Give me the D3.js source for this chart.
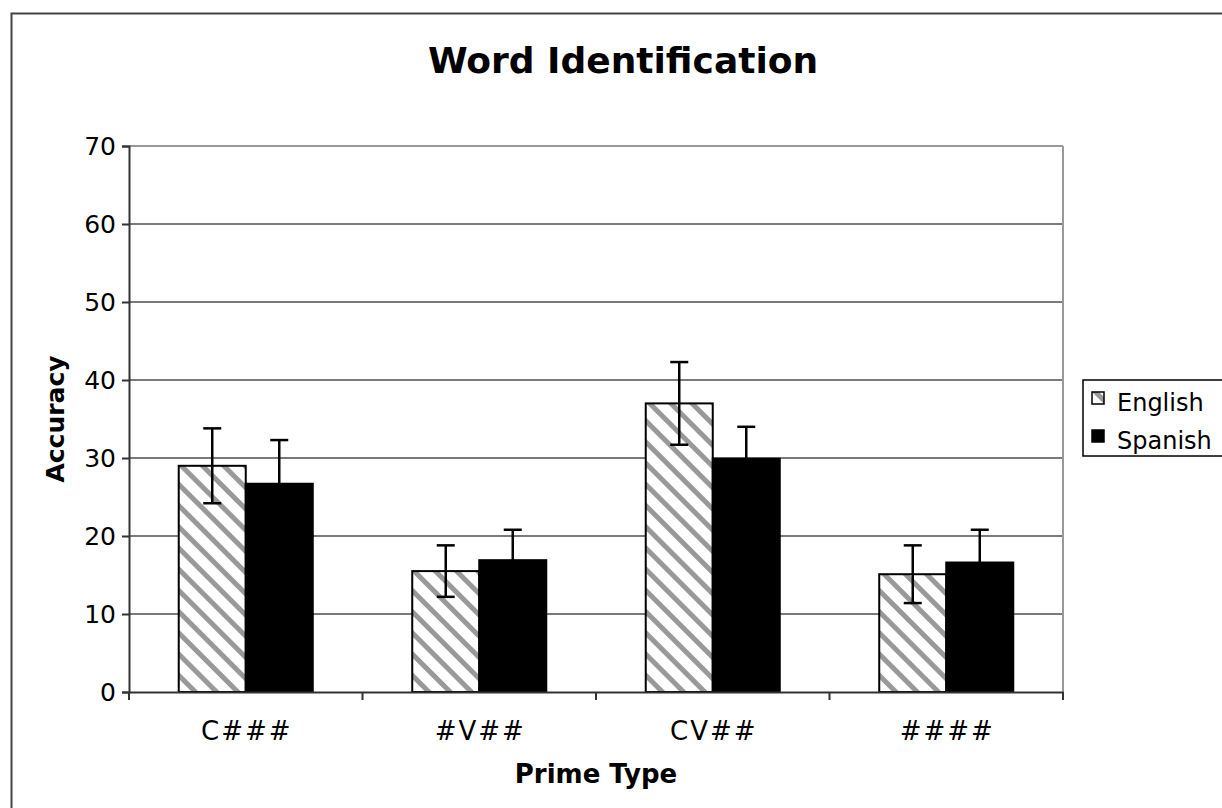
<!DOCTYPE html>
<html><head><meta charset="utf-8">
<script src="https://cdn.jsdelivr.net/npm/d3@7"></script>
<style>html,body{margin:0;padding:0;background:#fff;}svg{display:block;font-family:"DejaVu Sans",Verdana,sans-serif;}</style>
</head><body>
<svg id="c" width="1222" height="808"></svg>
<script>
const categories = ["C###", "#V##", "CV##", "####"];
const seriesNames = ["English", "Spanish"];
const englishValues = [29.0, 15.5, 37.0, 15.1];
const spanishValues = [26.7, 16.9, 29.9, 16.6];
const englishErrors = [4.8, 3.3, 5.3, 3.7];
const spanishErrors = [5.6, 3.9, 4.1, 4.2];
const yTicks = [0, 10, 20, 30, 40, 50, 60, 70];

const svg = d3.select("#c");
const W = 1222, H = 808;
const plot = {left: 129, right: 1063, top: 146, bottom: 692};

svg.append("rect").attr("width", W).attr("height", H).attr("fill", "#fff");
// outer chart frame
svg.append("rect").attr("x", 11.5).attr("y", 13.5).attr("width", W + 20).attr("height", H + 20)
  .attr("fill", "none").attr("stroke", "#444").attr("stroke-width", 2);

const defs = svg.append("defs");
const pat = defs.append("pattern").attr("id", "hatch").attr("patternUnits", "userSpaceOnUse")
  .attr("width", 15).attr("height", 15).attr("patternTransform", "rotate(-45)");
pat.append("rect").attr("width", 15).attr("height", 15).attr("fill", "#fff");
pat.append("rect").attr("width", 5).attr("height", 15).attr("fill", "#999");

const y = d3.scaleLinear().domain([0, 70]).range([plot.bottom, plot.top]);
const x = d3.scaleBand().domain(categories).range([plot.left, plot.right])
  .paddingInner(0.426).paddingOuter(0.213);
const xs = d3.scaleBand().domain(seriesNames).range([0, x.bandwidth()]);

// gridlines
svg.append("g").selectAll("line").data(yTicks.filter(d => d > 0)).join("line")
  .attr("x1", plot.left).attr("x2", plot.right)
  .attr("y1", d => y(d)).attr("y2", d => y(d))
  .attr("stroke", d => d === 70 ? "#999" : "#7a7a7a").attr("stroke-width", 2);
// right border of plot area
svg.append("line").attr("x1", plot.right).attr("x2", plot.right)
  .attr("y1", plot.top).attr("y2", plot.bottom).attr("stroke", "#999").attr("stroke-width", 2);

// bars
const data = categories.map((c, i) => ({
  cat: c,
  vals: [
    {s: "English", v: englishValues[i], e: englishErrors[i]},
    {s: "Spanish", v: spanishValues[i], e: spanishErrors[i]}
  ]
}));
const groups = svg.append("g").selectAll("g").data(data).join("g")
  .attr("transform", d => `translate(${x(d.cat)},0)`);
groups.selectAll("rect").data(d => d.vals).join("rect")
  .attr("x", d => xs(d.s)).attr("width", xs.bandwidth())
  .attr("y", d => y(d.v)).attr("height", d => y(0) - y(d.v))
  .attr("fill", d => d.s === "English" ? "url(#hatch)" : "#000")
  .attr("stroke", "#000").attr("stroke-width", 2);

// error bars
const eb = groups.selectAll("g.err").data(d => d.vals).join("g").attr("class", "err")
  .attr("stroke", "#000").attr("stroke-width", 2.5);
eb.append("line")
  .attr("x1", d => xs(d.s) + xs.bandwidth() / 2).attr("x2", d => xs(d.s) + xs.bandwidth() / 2)
  .attr("y1", d => y(d.v - d.e)).attr("y2", d => y(d.v + d.e));
eb.append("line")
  .attr("x1", d => xs(d.s) + xs.bandwidth() / 2 - 9).attr("x2", d => xs(d.s) + xs.bandwidth() / 2 + 9)
  .attr("y1", d => y(d.v + d.e)).attr("y2", d => y(d.v + d.e));
eb.append("line")
  .attr("x1", d => xs(d.s) + xs.bandwidth() / 2 - 9).attr("x2", d => xs(d.s) + xs.bandwidth() / 2 + 9)
  .attr("y1", d => y(d.v - d.e)).attr("y2", d => y(d.v - d.e));

// y axis
const yAxis = svg.append("g").attr("transform", `translate(${plot.left},0)`)
  .call(d3.axisLeft(y).tickValues(yTicks).tickSize(7).tickPadding(6));
yAxis.select(".domain").attr("stroke", "#333").attr("stroke-width", 2);
yAxis.selectAll(".tick line").attr("stroke", "#333").attr("stroke-width", 2);
yAxis.selectAll("text").attr("font-size", 25).attr("fill", "#000")
  .attr("font-family", "DejaVu Sans");

// x axis
const xAxis = svg.append("g").attr("transform", `translate(0,${plot.bottom})`)
  .call(d3.axisBottom(x).tickSize(0).tickPadding(30));
xAxis.select(".domain").attr("stroke", "#333").attr("stroke-width", 2);
xAxis.selectAll("text").attr("font-size", 26).attr("fill", "#000")
  .attr("letter-spacing", 2).attr("dx", 1)
  .attr("font-family", "DejaVu Sans");
const bounds = [plot.left].concat(categories.map(c => x(c) + x.bandwidth() / 2 + x.step() / 2));
xAxis.selectAll("line.bt").data(bounds).join("line").attr("class", "bt")
  .attr("x1", d => d).attr("x2", d => d).attr("y1", 0).attr("y2", 8)
  .attr("stroke", "#333").attr("stroke-width", 2);

// titles
svg.append("text").attr("x", 623).attr("y", 73).attr("text-anchor", "middle")
  .attr("font-size", 36).attr("font-weight", "bold").text("Word Identification");
svg.append("text").attr("x", 596).attr("y", 783).attr("text-anchor", "middle")
  .attr("font-size", 26).attr("font-weight", "bold").text("Prime Type");
svg.append("text").attr("transform", "translate(64,419) rotate(-90)").attr("text-anchor", "middle")
  .attr("font-size", 25).attr("font-weight", "bold").text("Accuracy");

// legend
const lg = svg.append("g");
lg.append("rect").attr("x", 1083).attr("y", 380).attr("width", 160).attr("height", 76)
  .attr("fill", "#fff").attr("stroke", "#000").attr("stroke-width", 1.5);
const items = lg.selectAll("g").data(seriesNames).join("g")
  .attr("transform", (d, i) => `translate(1092,${392 + i * 38})`);
items.append("rect").attr("width", 12).attr("height", 12)
  .attr("fill", d => d === "English" ? "url(#hatch)" : "#000").attr("stroke", "#000").attr("stroke-width", 1.5);
items.append("text").attr("x", 25).attr("y", 19).attr("font-size", 24).text(d => d);
</script>
</body></html>
